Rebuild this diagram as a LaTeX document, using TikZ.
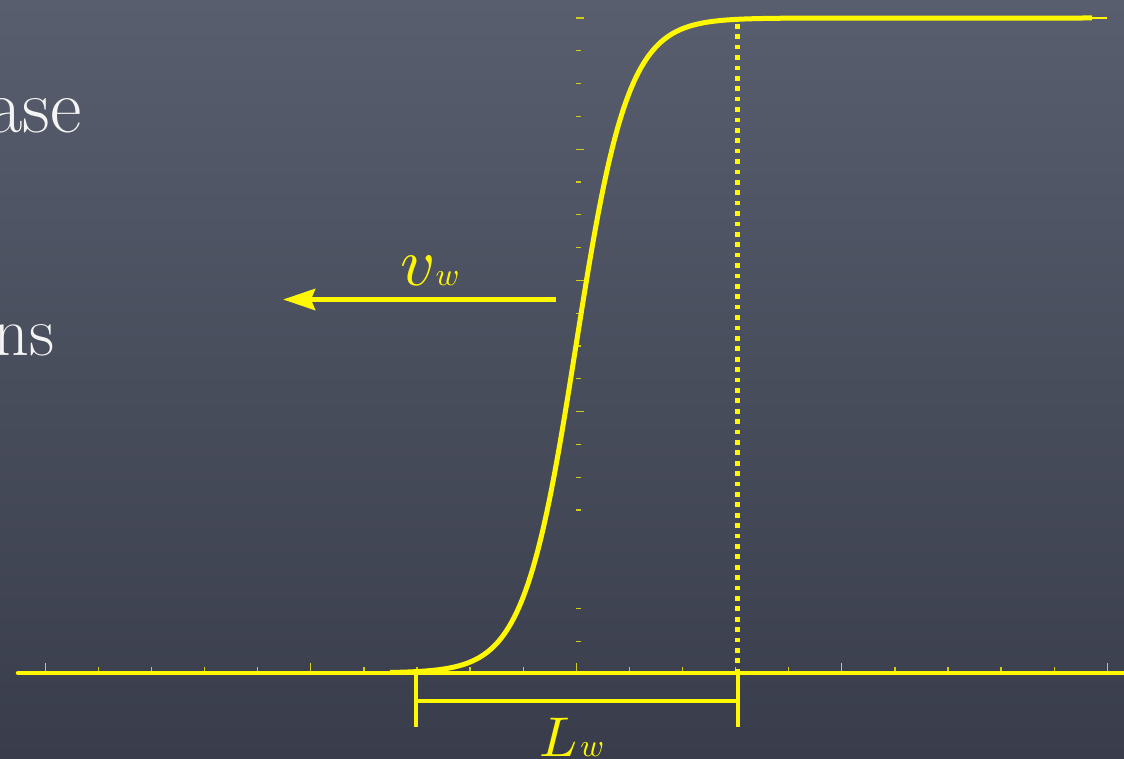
\documentclass[tikz,border=0pt]{standalone}
\usetikzlibrary{arrows.meta}
\definecolor{board}{RGB}{72,77,92}
\definecolor{boardtop}{RGB}{88,94,110}
\definecolor{boardbot}{RGB}{57,61,75}
\definecolor{chalkyellow}{RGB}{255,248,0}
\definecolor{chalkwhite}{RGB}{244,244,244}
\tikzset{
  axisline/.style={chalkyellow, line width=4.5pt, line cap=round},
  curveline/.style={chalkyellow, line width=5pt},
  tickline/.style={chalkyellow!75!board, line width=1.3pt},
  dottedline/.style={chalkyellow, line width=4.5pt, dash pattern=on 4.7pt off 5.7pt},
  bracketline/.style={chalkyellow, line width=4pt},
  arrowline/.style={chalkyellow, line width=5pt, -{Stealth[length=32pt,width=21pt,inset=4pt]}},
  slidetext/.style={text=chalkwhite, inner sep=0pt},
  mathlabel/.style={text=chalkyellow, inner sep=0pt},
}
\begin{document}
\begin{tikzpicture}[x=1pt,y=-1pt]
\useasboundingbox (0,0) rectangle (1124,759);
\begin{scope}
\clip (0,0) rectangle (1124,759);
\shade[top color=boardtop, bottom color=boardbot] (0,0) rectangle (1124,759);

% slide text (cut off at left)
\node[slidetext, anchor=base east, font=\fontsize{77}{80}\selectfont] (ase) at (82,133) {ase};
\node[slidetext, anchor=base east, font=\fontsize{70}{74}\selectfont] (ns) at (55,355) {ns};

% y ticks
\foreach \k in {0,...,15,18,19}{
  \pgfmathsetmacro{\yy}{18+32.8*\k}
  \pgfmathtruncatemacro{\m}{mod(\k,4)}
  \ifnum\m=0
    \draw[tickline] (576,\yy) -- (583.5,\yy);
  \else
    \draw[tickline] (576,\yy) -- (581,\yy);
  \fi
}
% x ticks
\foreach \k in {0,...,20}{
  \pgfmathsetmacro{\xx}{45.3+53.1*\k}
  \pgfmathtruncatemacro{\m}{mod(\k,5)}
  \ifnum\m=0
    \draw[tickline] (\xx,672) -- (\xx,663);
  \else
    \draw[tickline] (\xx,672) -- (\xx,666.5);
  \fi
}

% coordinates
\coordinate (axisL) at (18,673);
\coordinate (axisR) at (1130,673);
\coordinate (dotTop) at (737.5,24);
\coordinate (dotBot) at (737.5,673);
\coordinate (bl) at (416,673);
\coordinate (blb) at (416,726.5);
\coordinate (br) at (737.5,673);
\coordinate (brb) at (737.5,726.5);
\coordinate (bml) at (416,701);
\coordinate (bmr) at (737.5,701);
\coordinate (arrS) at (556,299.5);
\coordinate (arrT) at (283,299.5);
\coordinate (topEnd) at (1092,18);
\coordinate (frameEnd) at (1107,18);

% dotted vertical line
\draw[dottedline] (dotTop) -- (dotBot);

% axis
\draw[axisline] (axisL) -- (axisR);

% curve
\draw[curveline] plot[domain=390:800, samples=240, smooth] (\x, {345.5-327.5*tanh(max(min((\x-576)/52,4.5),-4.5))}) -- (topEnd);
\draw[tickline, chalkyellow] (topEnd) -- (frameEnd);

% bracket
\draw[bracketline] (bl) -- (blb);
\draw[bracketline] (br) -- (brb);
\draw[bracketline] (bml) -- (bmr);

% arrow
\draw[arrowline] (arrS) -- (arrT);

% labels
\node[mathlabel, anchor=base west] (vw) at (400,286) {\scalebox{6.8}{$v$}\scalebox{3.2}{$w$}};
\node[mathlabel, anchor=base west] (lw) at (539,756) {\scalebox{5.6}{$L$}\kern3pt\scalebox{3.2}{$w$}};
\end{scope}
\end{tikzpicture}
\end{document}
